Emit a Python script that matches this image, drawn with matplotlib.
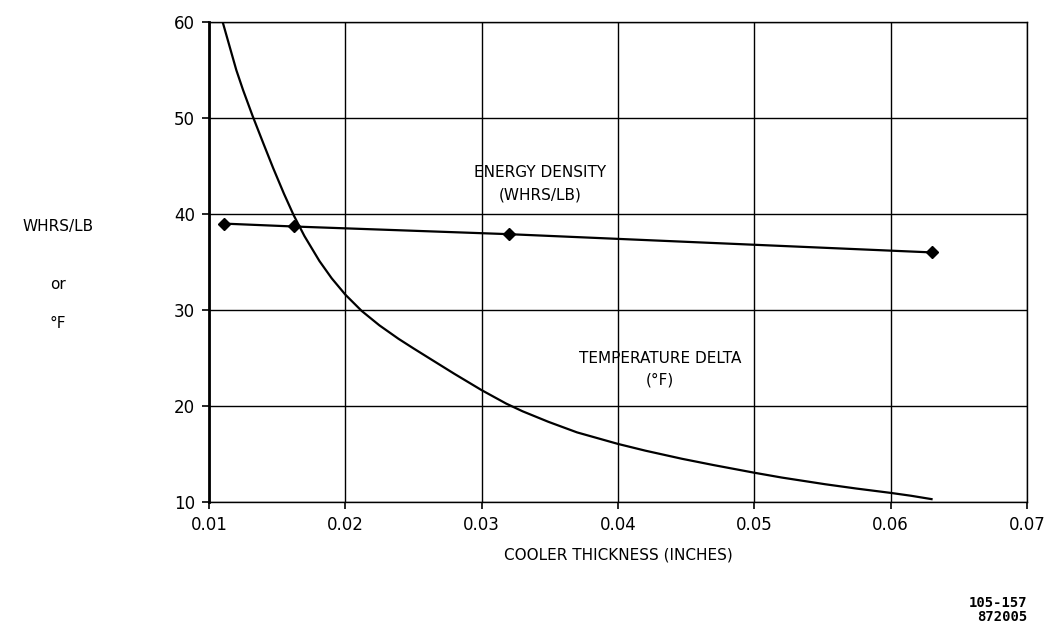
import matplotlib
matplotlib.use('Agg')
import matplotlib.pyplot as plt

# energy density (whrs/lb) vs cooler thickness
thickness_ed = [0.0111, 0.0162, 0.0320, 0.0630]
energy_density = [39.0, 38.7, 37.9, 36.0]

# temperature delta curve
thickness_td = [0.0110, 0.0115, 0.0120, 0.0125, 0.0132, 0.0140, 0.0147, 0.0155,
                0.0162, 0.0170, 0.0181, 0.0190, 0.0200, 0.0212, 0.0225, 0.0239,
                0.0250, 0.0263, 0.0280, 0.0300, 0.0318, 0.0330, 0.0349, 0.0370,
                0.0400, 0.0420, 0.0447, 0.0470, 0.0500, 0.0520, 0.0552, 0.0575,
                0.0600, 0.0615, 0.0630]
temp_delta = [60.0, 57.5, 55.0, 52.9, 50.2, 47.3, 44.8, 42.1,
              39.9, 37.7, 35.1, 33.3, 31.6, 29.9, 28.4, 27.0,
              26.0, 24.85, 23.35, 21.65, 20.25, 19.45, 18.35, 17.25,
              16.05, 15.35, 14.5, 13.85, 13.05, 12.55, 11.85, 11.4,
              10.95, 10.65, 10.3]

x_ticks = [0.01, 0.02, 0.03, 0.04, 0.05, 0.06, 0.07]
x_tick_labels = ['0.01', '0.02', '0.03', '0.04', '0.05', '0.06', '0.07']
y_ticks = [10, 20, 30, 40, 50, 60]

fig = plt.figure(figsize=(10.52, 6.29), dpi=100)
ax = fig.add_axes([0.1987, 0.2019, 0.7775, 0.7631])

ax.plot(thickness_td, temp_delta, color='black', linewidth=1.6)
ax.plot(thickness_ed, energy_density, color='black', linewidth=1.6,
        marker='D', markersize=6)

ax.set_xlim(0.01, 0.07)
ax.set_ylim(10, 60)
ax.set_xticks(x_ticks)
ax.set_xticklabels(x_tick_labels)
ax.set_yticks(y_ticks)
ax.grid(True, color='black', linewidth=1.0)
for s in ax.spines.values():
    s.set_linewidth(1.0)
ax.spines['left'].set_linewidth(2.0)
ax.tick_params(axis='both', direction='out', length=5, width=1.2,
               labelsize=12, pad=5)

ax.set_xlabel('COOLER THICKNESS (INCHES)', fontsize=11, labelpad=10)

ax.text(0.0343, 41.2, 'ENERGY DENSITY\n(WHRS/LB)', ha='center', va='bottom',
        fontsize=11, linespacing=1.6)
ax.text(0.0431, 21.9, 'TEMPERATURE DELTA\n(°F)', ha='center', va='bottom',
        fontsize=11, linespacing=1.6)

fig.text(0.055, 0.640, 'WHRS/LB', ha='center', va='center', fontsize=11)
fig.text(0.055, 0.548, 'or', ha='center', va='center', fontsize=11)
fig.text(0.055, 0.486, '°F', ha='center', va='center', fontsize=11)

fig.text(0.977, 0.008, '105-157\n872005', ha='right', va='bottom',
         fontsize=10, family='DejaVu Sans Mono', fontweight='bold',
         linespacing=1.0)

fig.savefig('out.png', dpi=100)
